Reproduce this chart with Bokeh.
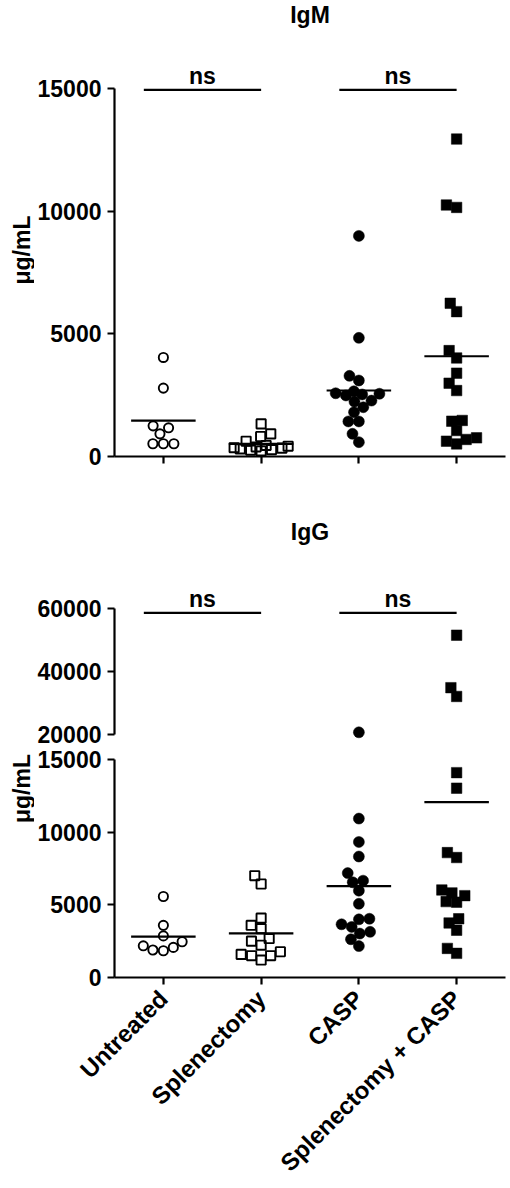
import math
import numpy as np
from bokeh.plotting import figure
from bokeh.models import FactorRange, Range1d, FixedTicker
from bokeh.layouts import row, column
from bokeh.core.properties import value
from bokeh.embed import file_html
from bokeh.resources import INLINE

# ---------------- data ----------------
groups = ["Untreated", "Splenectomy", "CASP", "Splenectomy + CASP"]

igm_untreated = [4040, 2790, 1250, 1170, 925, 520, 520, 520]
igm_splenectomy = [1330, 925, 815, 625, 450, 420, 390, 360, 340, 310, 280, 260, 230]
igm_casp = [9000, 4840, 3290, 3100, 2660, 2530, 2490, 2240, 2280, 2560, 2580, 2010, 1810,
            1430, 1430, 925, 585]
igm_spl_casp = [12950, 10160, 10260, 6250, 5910, 4320, 4020, 3400, 2990, 2690, 1470, 1440,
                1060, 695, 515, 625, 760]

igg_untreated = [5570, 3590, 2860, 2460, 2070, 1840, 1890, 2180]
igg_splenectomy = [7000, 6430, 4090, 3590, 3360, 2680, 2500, 2220, 1770, 1500, 1200, 1500, 1590]
igg_casp = [20700, 10930, 9320, 8320, 7180, 6660, 6550, 5970, 5070, 4040, 3660, 4000, 3480,
            3140, 3020, 2630, 2160]
igg_spl_casp = [51600, 34900, 32100, 14090, 13020, 8590, 8250, 6020, 5820, 5630, 5180, 5220,
                4040, 3750, 3250, 2000, 1660]

igm_ticks = [0, 5000, 10000, 15000]
igg_upper_ticks = [20000, 40000, 60000]
igg_lower_ticks = [0, 5000, 10000, 15000]
comparisons = [(0, 1), (2, 3)]
comparison_label = "ns"

igm_data = [igm_untreated, igm_splenectomy, igm_casp, igm_spl_casp]
igg_data = [igg_untreated, igg_splenectomy, igg_casp, igg_spl_casp]

# ---------------- style / layout ----------------
FONT = "Liberation Sans"
TICK_FS = "23px"
LAB_FS = "23px"
XLAB_FS = "24px"
TITLE_FS = "23px"
STRIP_W = 34
BORDER_L = 80
BORDER_R = 5
FRAME_W = 391
FIG_W = BORDER_L + FRAME_W + BORDER_R
PX_PER_CAT = FRAME_W / len(groups)

# marker styles per group: (marker, filled)
marker_styles = [("circle", False), ("square", False), ("circle", True), ("square", True)]


def swarm_offsets(vals, px_per_unit, d=10.5, max_off=27.0):
    """Greedy beeswarm, in pixels, limited to +-max_off."""
    vals = np.asarray(vals, dtype=float)
    order = np.argsort(vals, kind="stable")
    placed = []
    offs = np.zeros(len(vals))
    for i in order:
        y = vals[i] * px_per_unit
        cands = [0.0]
        for xj, yj in placed:
            dy = abs(y - yj)
            if dy < d:
                dx = math.sqrt(d * d - dy * dy)
                cands += [xj + dx, xj - dx]
        cands = sorted(set(cands), key=lambda c: (abs(c), c))
        best = None
        for c in cands:
            if abs(c) > max_off:
                continue
            if all((c - xj) ** 2 + (y - yj) ** 2 >= d * d - 1e-6 for xj, yj in placed):
                best = c
                break
        if best is None:
            grid = np.linspace(-max_off, max_off, 55)
            best = max(grid, key=lambda c: min((c - xj) ** 2 + (y - yj) ** 2 for xj, yj in placed))
        placed.append((best, y))
        offs[i] = best
    return offs / PX_PER_CAT


def style_axes(p, bounds, ticks, show_x_labels):
    p.outline_line_color = None
    p.xgrid.visible = False
    p.ygrid.visible = False
    p.background_fill_color = "white"
    p.border_fill_color = "white"
    for ax in p.yaxis:
        ax.bounds = bounds
        ax.ticker = FixedTicker(ticks=ticks, minor_ticks=[])
        ax.axis_line_width = 2.2
        ax.major_tick_line_width = 2.2
        ax.major_tick_out = 7
        ax.major_tick_in = 0
        ax.minor_tick_out = 0
        ax.major_label_standoff = 6
        ax.major_label_text_font = FONT
        ax.major_label_text_font_size = TICK_FS
        ax.major_label_text_font_style = "bold"
        ax.major_label_text_color = "black"
    for ax in p.xaxis:
        ax.axis_line_width = 2.2
        ax.major_tick_line_width = 2.2
        ax.major_tick_out = 7
        ax.major_tick_in = 0
        ax.minor_tick_out = 0
        ax.major_label_text_font = FONT
        ax.major_label_text_font_style = "bold"
        if show_x_labels:
            ax.major_label_text_font_size = XLAB_FS
            ax.major_label_orientation = math.pi / 4
            ax.major_label_standoff = 10
            ax.major_label_text_color = "black"
        else:
            ax.major_label_text_font_size = "8px"
            ax.major_label_text_color = None


def make_panel(height, border_top, border_bottom, yrange, bounds, ticks, data, show_x,
               x_labels=False):
    frame_h = height - border_top - border_bottom
    px_per_unit = frame_h / (yrange[1] - yrange[0])
    p = figure(width=FIG_W, height=height, x_range=FactorRange(factors=groups),
               y_range=Range1d(*yrange), output_backend="svg", toolbar_location=None,
               min_border_left=BORDER_L, min_border_right=BORDER_R,
               min_border_top=border_top, min_border_bottom=border_bottom,
               x_axis_location="below" if show_x else None)
    style_axes(p, bounds, ticks, x_labels)
    for gi, vals in enumerate(data):
        vis = [v for v in vals if yrange[0] <= v <= yrange[1]]
        offs = swarm_offsets([v - yrange[0] for v in vis], px_per_unit)
        xs = [gi + 0.5 + o for o in offs]
        marker, filled = marker_styles[gi]
        if filled:
            size = 11 if marker == "circle" else 10.5
            p.scatter(xs, vis, marker=marker, size=size, fill_color="black",
                      line_color="black", line_width=0.5)
        else:
            p.scatter(xs, vis, marker=marker, size=9.2, fill_color=None,
                      line_color="black", line_width=1.9)
        m = float(np.mean(vals))
        p.segment(x0=[gi + 0.5 - 0.33], x1=[gi + 0.5 + 0.33], y0=[m], y1=[m],
                  line_color="black", line_width=2.2)
    return p


def add_title_and_ns(p, title, title_y, ns_text_y, ns_line_y):
    p.text(x=[len(groups) / 2], y=[title_y], text=[title], text_align="center",
           text_baseline="middle", text_font=value(FONT), text_font_size=TITLE_FS,
           text_font_style="bold", text_color="black")
    for a, b in comparisons:
        x0 = a + 0.5 - 0.2
        x1 = b + 0.5
        p.segment(x0=[x0], x1=[x1], y0=[ns_line_y], y1=[ns_line_y], line_color="black",
                  line_width=2.2)
        p.text(x=[(x0 + x1) / 2], y=[ns_text_y], text=[comparison_label], text_align="center",
               text_baseline="middle", text_font=value(FONT), text_font_size=LAB_FS,
               text_font_style="bold", text_color="black")


def strip(height, y_center):
    s = figure(width=STRIP_W, height=height, x_range=Range1d(0, STRIP_W),
               y_range=Range1d(0, height), output_backend="svg", toolbar_location=None,
               min_border=0, x_axis_location=None, y_axis_location=None)
    s.outline_line_color = None
    s.xgrid.visible = False
    s.ygrid.visible = False
    s.text(x=[21], y=[y_center], text=["μg/mL"], angle=math.pi / 2, text_align="center",
           text_baseline="middle", text_font=value(FONT), text_font_size=LAB_FS,
           text_font_style="bold", text_color="black")
    return s


# ---------------- IgM panel (frame: page y 0..456) ----------------
IGM_H, IGM_BB = 486, 30
IGM_BOTTOM = 456.0
igm_scale = (IGM_BOTTOM - 88.3) / 15000.0
igm_range = (0, IGM_BOTTOM / igm_scale)
p_igm = make_panel(IGM_H, 0, IGM_BB, igm_range, (0, 15000), igm_ticks, igm_data,
                   show_x=True, x_labels=False)


def igm_at(py):
    return (IGM_BOTTOM - py) / igm_scale


add_title_and_ns(p_igm, "IgM", title_y=igm_at(14), ns_text_y=igm_at(75), ns_line_y=igm_at(89.3))

# ---------------- IgG upper panel (20000-60000; page y 486..747) ----------------
UP_TOP, UP_H = 486, 261
Y60, Y20 = 608.3, 734.0
up_scale = (Y20 - Y60) / 40000.0
up_range = (20000 - (UP_TOP + UP_H - Y20) / up_scale, 60000 + (Y60 - UP_TOP) / up_scale)
p_up = make_panel(UP_H, 0, 0, up_range, (20000, 60000), igg_upper_ticks, igg_data,
                  show_x=False)


def up_at(py):
    return 60000 + (Y60 - py) / up_scale


add_title_and_ns(p_up, "IgG", title_y=up_at(531), ns_text_y=up_at(598), ns_line_y=up_at(612.3))

# ---------------- IgG lower panel (0-15000; page y 747..1188) ----------------
LOW_H, LOW_BB = 441, 209
low_scale = 220.0 / 15000.0
low_range = (0, (LOW_H - LOW_BB) / low_scale)
p_low = make_panel(LOW_H, 0, LOW_BB, low_range, (0, 15000), igg_lower_ticks, igg_data,
                   show_x=True, x_labels=True)

layout = column(
    row(strip(IGM_H, IGM_H - 266), p_igm),
    row(strip(UP_H + LOW_H, UP_H + LOW_H - (788 - UP_TOP)), column(p_up, p_low)),
)

open("out.html", "w").write(file_html(layout, INLINE))
